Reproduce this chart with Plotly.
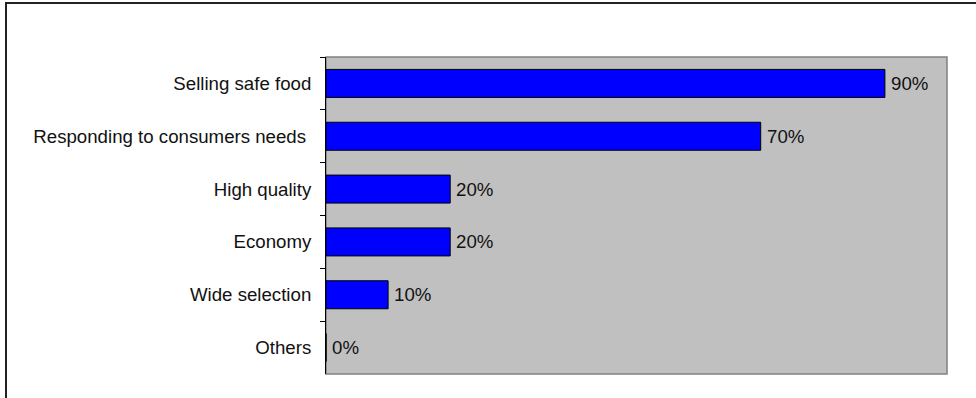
import plotly.graph_objects as go

categories = ["Selling safe food", "Responding to consumers needs\u00a0", "High quality",
              "Economy", "Wide selection", "Others"]
values = [0.90, 0.70, 0.20, 0.20, 0.10, 0.0]
labels = ["90%", "70%", "20%", "20%", "10%", "0%"]

FONT = "Liberation Sans, Arial, sans-serif"
FS = 18.67

fig = go.Figure()
fig.add_trace(go.Bar(
    y=categories, x=values, orientation="h",
    marker=dict(color="#0000FF", line=dict(color="#000000", width=1)),
    width=0.53, hoverinfo="skip",
))

for c, v, t in zip(categories, values, labels):
    fig.add_annotation(x=v, y=c, xref="x", yref="y", text=t, showarrow=False,
                       xanchor="left", yanchor="middle", xshift=4,
                       font=dict(family=FONT, size=FS, color="#111"))

W, H = 976, 398
L, R, T, B = 326, 947, 57, 374
def px(x):
    return (x - L) / (R - L)
def py(y):
    return (B - y) / (B - T)

fig.update_layout(
    width=W, height=H,
    margin=dict(l=L, r=W - R, t=T, b=H - B),
    paper_bgcolor="white", plot_bgcolor="#C0C0C0",
    showlegend=False, hovermode=False,
    font=dict(family=FONT, size=FS, color="#111"),
    xaxis=dict(range=[0, 1], showticklabels=False, showgrid=False, zeroline=False,
               showline=False, fixedrange=True),
    yaxis=dict(autorange="reversed", showgrid=False, zeroline=False, fixedrange=True,
               showline=True, linecolor="black", linewidth=1,
               ticks="outside", tickson="boundaries", ticklen=5, tickcolor="black",
               ticklabelstandoff=10, tickfont=dict(family=FONT, size=FS, color="#111")),
    shapes=[
        dict(type="rect", xref="paper", yref="paper", x0=0, x1=1, y0=0, y1=1,
             line=dict(color="#808080", width=1.5), fillcolor="rgba(0,0,0,0)", layer="below"),
        dict(type="rect", xref="paper", yref="paper", x0=px(6), x1=px(990), y0=py(410), y1=py(3),
             line=dict(color="#222222", width=2), fillcolor="rgba(0,0,0,0)", layer="above"),
    ],
)

fig.write_html("out.html", config={"displayModeBar": False},
               post_script="document.body.style.margin='0px';")
